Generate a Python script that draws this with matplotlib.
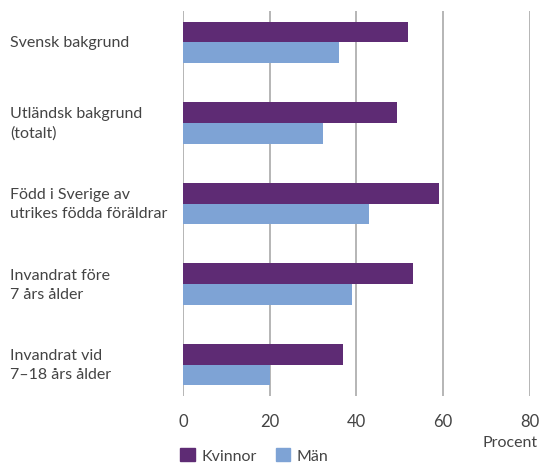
import matplotlib
matplotlib.use('Agg')
import matplotlib.pyplot as plt
import matplotlib.transforms as mtransforms
from matplotlib.patches import Patch
import numpy as np

# data
categories = ['Svensk bakgrund', 'Utländsk bakgrund\n(totalt)',
              'Född i Sverige av\nutrikes födda föräldrar',
              'Invandrat före\n7 års ålder', 'Invandrat vid\n7–18 års ålder']
kvinnor = [52, 49.4, 59, 53, 37]
man = [36, 32.2, 43, 39, 20]
x_ticks = [0, 20, 40, 60, 80]

plt.rcParams['font.family'] = ['Lato', 'DejaVu Sans']
text_color = '#444444'
purple = '#5e2b74'
blue = '#7ea3d5'

fig = plt.figure(figsize=(5.43, 4.64), dpi=100)
ax = fig.add_axes([0.337, 0.1444, 0.6385, 0.8296])

y = np.arange(len(categories))
h = 0.258
ax.barh(y - h / 2, kvinnor, height=h, color=purple, zorder=3)
ax.barh(y + h / 2, man, height=h, color=blue, zorder=3)

ax.set_xlim(0, 80)
ax.set_ylim(4.39, -0.39)
ax.set_xticks(x_ticks)
ax.set_yticks([])
ax.grid(axis='x', color='#b0b0b0', linewidth=1.3, zorder=0)
for s in ax.spines.values():
    s.set_visible(False)
ax.tick_params(axis='x', length=0, pad=12, labelsize=12, labelcolor=text_color)

# category labels, left aligned at the figure edge
trans = mtransforms.blended_transform_factory(fig.transFigure, ax.transData)
for yi, lab in zip(y, categories):
    ax.text(10 / 543, yi, lab, transform=trans, ha='left', va='center',
            fontsize=11.5, color=text_color, linespacing=1.45)

fig.text(538 / 543, 1 - 442.7 / 464, 'Procent', ha='right', va='center',
         fontsize=11.5, color=text_color)

handles = [Patch(color=purple, label='Kvinnor'), Patch(color=blue, label='Män')]
leg = fig.legend(handles=handles, loc='center left', ncol=2, frameon=False,
                 bbox_to_anchor=(174 / 543, 1 - 456.5 / 464), fontsize=11.5,
                 handlelength=0.9, handleheight=0.9, handletextpad=0.4,
                 columnspacing=1.2, borderaxespad=0)
for t in leg.get_texts():
    t.set_color(text_color)

plt.savefig('out.png', dpi=100)
